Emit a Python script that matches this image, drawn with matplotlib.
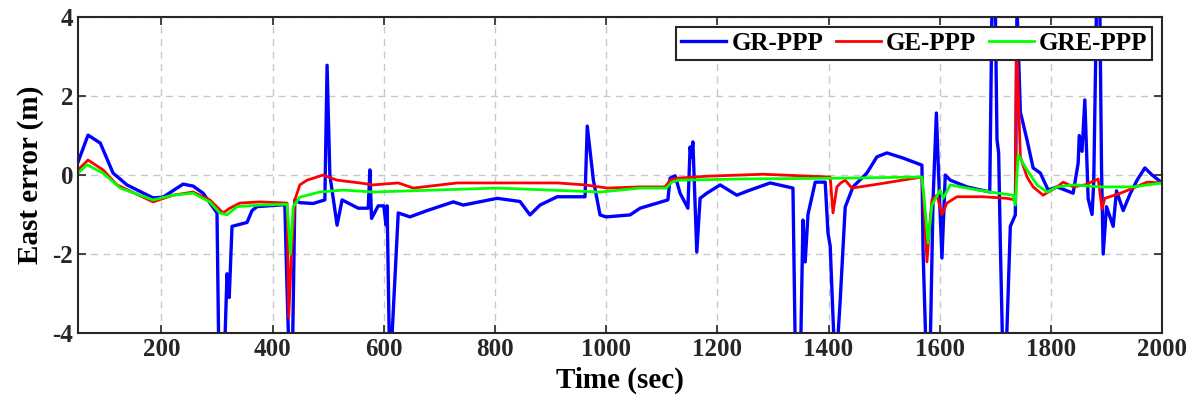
import numpy as np
import matplotlib.pyplot as plt

# GR-PPP (azul)
t_gr = [50, 68, 90, 113, 138, 185, 203, 239, 257, 275, 300, 303, 314, 318, 322, 327, 354, 363, 372,
        422, 426, 429, 436, 440, 449, 473, 494, 498, 503, 516, 525, 554, 572, 575, 578, 590, 600, 604,
        606, 610, 614, 620, 626, 647, 678, 725, 743, 804, 845, 863, 881, 912, 962, 966, 977, 989, 1000,
        1043, 1061, 1111, 1115, 1124, 1133, 1147, 1151, 1153, 1156, 1163, 1169, 1181, 1205, 1235, 1259,
        1295, 1336, 1340, 1350, 1354, 1358, 1363, 1376, 1394, 1399, 1403, 1410, 1416, 1421, 1430, 1444,
        1469, 1487, 1505, 1534, 1568, 1570, 1575, 1583, 1588, 1594, 1598, 1604, 1610, 1619, 1649, 1690,
        1694, 1700, 1703, 1706, 1709, 1713, 1720, 1727, 1736, 1739, 1745, 1757, 1768, 1781, 1795, 1811,
        1840, 1849, 1851, 1856, 1861, 1867, 1874, 1877, 1882, 1888, 1891, 1894, 1900, 1912, 1918, 1930,
        1943, 1955, 1969, 1982, 2000]
e_gr = [0.33, 1.01, 0.81, 0.05, -0.25, -0.58, -0.56, -0.23, -0.28, -0.46, -0.96, -4.3, -4.3, -2.5, -3.1,
        -1.3, -1.2, -0.9, -0.8, -0.75, -2.9, -4.3, -4.3, -0.63, -0.7, -0.72, -0.63, 2.78, 0.0, -1.27,
        -0.63, -0.84, -0.84, 0.13, -1.1, -0.78, -0.78, -1.27, -0.78, -4.3, -4.3, -2.65, -0.96, -1.06,
        -0.9, -0.68, -0.76, -0.59, -0.67, -1.01, -0.76, -0.55, -0.55, 1.24, -0.13, -1.01, -1.06, -1.01,
        -0.84, -0.63, -0.08, -0.02, -0.46, -0.84, 0.71, 0.45, 0.84, -1.95, -0.59, -0.46, -0.25, -0.51,
        -0.38, -0.2, -0.33, -4.3, -4.3, -1.14, -2.2, -1.0, -0.18, -0.18, -1.47, -1.8, -4.3, -4.3, -3.17,
        -0.81, -0.3, 0.05, 0.46, 0.56, 0.43, 0.25, -1.9, -4.3, -4.3, -0.63, 1.57, 0.0, -2.1, 0.0, -0.13,
        -0.3, -0.43, 4.3, 4.3, 0.9, 0.56, -1.72, -4.3, -4.3, -1.3, -1.01, 4.3, 1.6, 0.89, 0.18, 0.05,
        -0.38, -0.3, -0.46, 0.3, 1.0, 0.6, 1.9, -0.6, -1.0, -0.2, 4.3, 4.3, 0.2, -2.0, -0.8, -1.3, -0.4,
        -0.9, -0.46, -0.13, 0.18, 0.0, -0.2]

# GE-PPP (rojo)
t_ge = [50, 68, 95, 120, 185, 221, 257, 287, 311, 323, 341, 377, 426, 429, 434, 440, 449, 462, 491,
        516, 557, 581, 626, 653, 732, 804, 912, 962, 1002, 1061, 1106, 1115, 1127, 1181, 1282, 1403,
        1408, 1415, 1422, 1430, 1442, 1480, 1568, 1571, 1577, 1583, 1586, 1595, 1604, 1613, 1631, 1678,
        1721, 1736, 1738, 1745, 1757, 1768, 1786, 1811, 1822, 1840, 1861, 1885, 1892, 1897, 1925, 1948,
        1973, 2000]
e_ge = [0.13, 0.38, 0.13, -0.25, -0.68, -0.51, -0.43, -0.63, -0.96, -0.84, -0.71, -0.68, -0.71, -3.6,
        -2.0, -0.63, -0.25, -0.13, 0.0, -0.13, -0.2, -0.25, -0.2, -0.33, -0.2, -0.2, -0.2, -0.25, -0.33,
        -0.3, -0.3, -0.13, -0.08, -0.03, 0.02, -0.05, -0.96, -0.3, -0.2, -0.13, -0.33, -0.25, -0.05,
        -0.63, -2.2, -1.1, -0.63, -0.51, -1.0, -0.71, -0.55, -0.55, -0.59, -0.63, 3.6, 0.46, -0.05, -0.3,
        -0.51, -0.3, -0.18, -0.3, -0.25, -0.1, -0.86, -0.59, -0.46, -0.33, -0.18, -0.2]

# GRE-PPP (verde)
t_gre = [50, 66, 95, 126, 185, 221, 257, 287, 305, 318, 336, 377, 426, 432, 437, 449, 485, 527, 581,
         804, 990, 1061, 1108, 1118, 1130, 1242, 1421, 1568, 1572, 1579, 1586, 1601, 1606, 1619, 1649,
         1690, 1732, 1736, 1741, 1757, 1775, 1793, 1811, 1840, 1889, 1948, 2000]
e_gre = [0.05, 0.26, 0.05, -0.33, -0.63, -0.51, -0.46, -0.68, -0.96, -1.01, -0.8, -0.76, -0.74, -2.0,
         -0.8, -0.56, -0.43, -0.38, -0.43, -0.33, -0.43, -0.33, -0.33, -0.18, -0.13, -0.1, -0.08, -0.05,
         -0.6, -1.72, -0.76, -0.38, -0.59, -0.25, -0.33, -0.43, -0.51, -0.76, 0.51, 0.13, -0.25, -0.43,
         -0.3, -0.25, -0.3, -0.3, -0.2]

plt.rcParams['font.family'] = 'Liberation Serif'
plt.rcParams['font.weight'] = 'bold'
plt.rcParams['axes.unicode_minus'] = False

fig = plt.figure(figsize=(12.04, 4.16), dpi=100)
ax = fig.add_axes([0.0648, 0.1995, 0.9004, 0.7595])

ax.plot(t_gr, e_gr, color=(0, 0, 1), linewidth=2.4, label="GR-PPP")
ax.plot(t_ge, e_ge, color=(1, 0, 0), linewidth=2.0, label="GE-PPP")
ax.plot(t_gre, e_gre, color=(0, 1, 0), linewidth=2.0, label="GRE-PPP")

ax.set_xlim(50, 2000)
ax.set_ylim(-4, 4)
ax.set_xticks(np.arange(200, 2001, 200))
ax.set_yticks([-4, -2, 0, 2, 4])
ax.grid(True, linestyle=(0, (5, 4)), color='#c8c8c8', linewidth=1.0)
ax.tick_params(direction='in', top=True, right=True, length=6, width=1.2,
               labelsize=18, colors='#262626')
for s in ax.spines.values():
    s.set_linewidth(1.5)
    s.set_color('#262626')

ax.set_xlabel("Time (sec)", fontsize=21, fontweight='bold', labelpad=4)
ax.set_ylabel("East error (m)", fontsize=21, fontweight='bold', labelpad=6)

leg = ax.legend(loc='upper right', ncol=3, fontsize=18, frameon=True, fancybox=False,
                edgecolor='#262626', handlelength=1.8, handletextpad=0.2, columnspacing=0.5,
                borderpad=0.2, borderaxespad=0.4, framealpha=1)
leg.get_frame().set_linewidth(1.5)

fig.savefig("out.png", dpi=100)
